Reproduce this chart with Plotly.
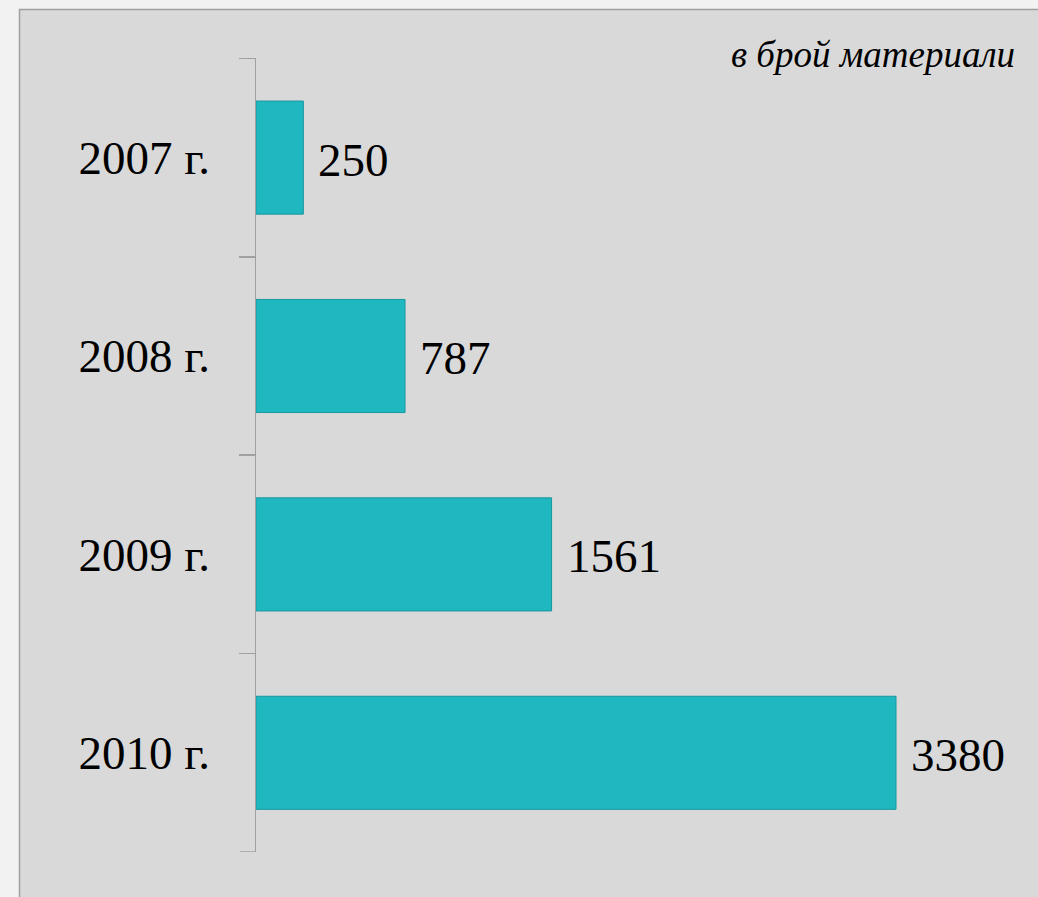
import plotly.graph_objects as go

categories = ["2007 г.", "2008 г.", "2009 г.", "2010 г."]
values = [250, 787, 1561, 3380]
unit_label = "в брой материали"

W, H = 1038, 897
L, R, T, B = 256, 25, 58, 45
pw = W - L - R
ph = H - T - B

def px2x(px):
    return (px - L) / pw

def py2y(py):
    return (H - B - py) / ph

font_family = "Liberation Serif, DejaVu Serif, serif"
axis_gray = "#a0a0a0"

fig = go.Figure()
fig.add_trace(go.Bar(
    x=values,
    y=categories,
    orientation="h",
    marker=dict(color="#1fb8c1", line=dict(color="#17979e", width=1)),
    hoverinfo="skip",
))

for c, v in zip(categories, values):
    fig.add_annotation(x=v, y=c, xref="x", yref="y", text=str(v), showarrow=False,
                       xanchor="left", yanchor="middle", xshift=13, yshift=-2,
                       font=dict(family=font_family, size=47, color="#000000"))

fig.add_annotation(x=px2x(1017), y=py2y(55), xref="paper", yref="paper",
                   text="<i>" + unit_label + "</i>", showarrow=False,
                   xanchor="right", yanchor="middle",
                   font=dict(family=font_family, size=37, color="#000000"))

fig.add_shape(type="rect", xref="paper", yref="paper",
              x0=px2x(19.5), x1=px2x(1045), y0=py2y(9.5), y1=py2y(905),
              fillcolor="#d9d9d9", line=dict(color=axis_gray, width=1.5), layer="below")

# closing boundary tick below the last category
fig.add_shape(type="line", xref="paper", yref="y",
              x0=px2x(240), x1=0, y0=len(categories) - 0.5, y1=len(categories) - 0.5,
              line=dict(color=axis_gray, width=1.5), layer="above")

fig.update_layout(
    width=W, height=H,
    margin=dict(l=L, r=R, t=T, b=B, pad=0),
    paper_bgcolor="#f2f2f2",
    plot_bgcolor="rgba(0,0,0,0)",
    bargap=0.43,
    showlegend=False,
    font=dict(family=font_family, size=47, color="#000000"),
    xaxis=dict(range=[0, pw / (640 / 3380)], showgrid=False, zeroline=False,
               showticklabels=False, showline=False, fixedrange=True),
    yaxis=dict(range=[3.5, -0.502], showgrid=False, zeroline=False,
               showline=True, linecolor=axis_gray, linewidth=1.5,
               ticks="outside", tickson="boundaries", ticklen=16,
               tickcolor=axis_gray, tickwidth=1.5,
               ticklabelstandoff=35, fixedrange=True,
               tickfont=dict(family=font_family, size=47, color="#000000")),
)

fig.write_html("out.html",
               config={"displayModeBar": False, "staticPlot": True},
               post_script="document.body.style.margin='0';document.body.style.background='#f2f2f2';")
